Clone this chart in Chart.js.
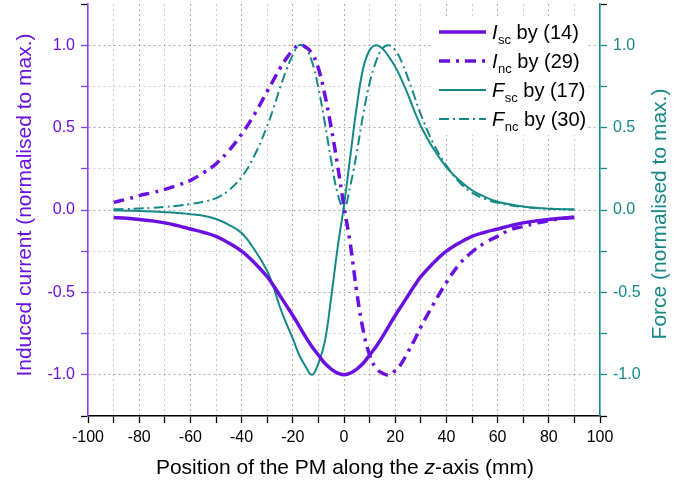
<!DOCTYPE html>
<html>
<head>
<meta charset="utf-8">
<script src="https://cdn.jsdelivr.net/npm/chart.js@4.4.1/dist/chart.umd.min.js"></script>
<style>
    html, body { margin: 0; padding: 0; background: #fff; }
    #wrap { width: 683px; height: 486px; position: relative; }
</style>
</head>
<body>
<div id="wrap"><canvas id="chart"></canvas></div>
<script>
// Position of the PM (mm)
const zPos = [-90, -85, -80, -75, -70, -65, -60, -55, -50, -45, -40, -35, -30, -27.5, -25, -22.5, -20, -17.5, -15, -12.5,
    -10, -7.5, -5, -2.5, 0, 2.5, 5, 7.5, 10, 12.5, 15, 17.5, 20, 22.5, 25, 27.5, 30, 35, 40, 45,
    50, 55, 60, 65, 70, 75, 80, 85, 90];

// Induced current, normalised
const iSc = [-0.045, -0.05, -0.058, -0.066, -0.078, -0.095, -0.115, -0.135, -0.16, -0.2, -0.25, -0.32, -0.405, -0.46, -0.52, -0.58, -0.64, -0.705, -0.77, -0.83,
    -0.88, -0.93, -0.965, -0.99, -1.0, -0.99, -0.965, -0.93, -0.88, -0.83, -0.77, -0.705, -0.64, -0.58, -0.52, -0.46, -0.405, -0.32, -0.25, -0.2,
    -0.16, -0.135, -0.115, -0.095, -0.078, -0.066, -0.058, -0.05, -0.045];
const iNc = [0.046, 0.065, 0.087, 0.105, 0.125, 0.15, 0.18, 0.225, 0.28, 0.36, 0.46, 0.58, 0.72, 0.79, 0.86, 0.92, 0.97, 1.0, 0.99, 0.95,
    0.86, 0.7, 0.5, 0.27, 0.02, -0.21, -0.5, -0.73, -0.88, -0.96, -0.99, -1.0, -0.975, -0.93, -0.86, -0.79, -0.71, -0.57, -0.44, -0.33,
    -0.255, -0.2, -0.16, -0.12, -0.1, -0.08, -0.065, -0.052, -0.042];

// Force, normalised
const fSc = [-0.003, -0.004, -0.006, -0.009, -0.013, -0.018, -0.025, -0.035, -0.055, -0.09, -0.14, -0.24, -0.37, -0.47, -0.59, -0.69, -0.78, -0.88, -0.95, -1.0,
    -0.93, -0.8, -0.53, -0.23, 0.03, 0.33, 0.63, 0.86, 0.97, 1.0, 0.98, 0.93, 0.87, 0.79, 0.7, 0.6, 0.51, 0.37, 0.26, 0.18,
    0.12, 0.08, 0.05, 0.034, 0.021, 0.013, 0.008, 0.005, 0.003];
const fNc = [0.004, 0.006, 0.009, 0.013, 0.019, 0.026, 0.036, 0.05, 0.072, 0.12, 0.2, 0.33, 0.51, 0.62, 0.74, 0.85, 0.94, 1.0, 0.98, 0.9,
    0.74, 0.53, 0.3, 0.1, 0.01, 0.15, 0.35, 0.58, 0.77, 0.9, 0.98, 1.0, 0.97, 0.9, 0.8, 0.69, 0.58, 0.4, 0.27, 0.17,
    0.105, 0.068, 0.044, 0.029, 0.019, 0.012, 0.008, 0.005, 0.003];

const legendItems = [
    { sym: 'I', sub: 'sc', rest: ' by (14)' },
    { sym: 'I', sub: 'nc', rest: ' by (29)' },
    { sym: 'F', sub: 'sc', rest: ' by (17)' },
    { sym: 'F', sub: 'nc', rest: ' by (30)' }
];

const PURPLE = '#6a10e0';
const PURPLE_AXIS = '#8444ee';
const TEAL = '#168888';
const FONT = '"Liberation Sans", Arial, sans-serif';

const DASH_I = [11, 6, 3, 6];
const DASH_F = [10, 4, 2, 4];

function pts(values) {
    return zPos.map((z, i) => ({ x: z, y: values[i] }));
}

function isMult(v, step) {
    return Math.abs(v / step - Math.round(v / step)) < 1e-6;
}

// kill the auto label overflow padding so the plot box lands where the reference has it
function noPad(s) {
    s.paddingTop = 0;
    s.paddingBottom = 0;
    s.paddingLeft = 0;
    s.paddingRight = 0;
}

const styles = [
    { color: PURPLE, width: 3.5, dash: [] },
    { color: PURPLE, width: 3.5, dash: DASH_I },
    { color: TEAL, width: 2, dash: [] },
    { color: TEAL, width: 2, dash: DASH_F }
];

// legend + axis titles (need italics and subscripts)
const decorPlugin = {
    id: 'decor',
    afterDatasetsDraw(chart) {
        const ctx = chart.ctx;
        ctx.save();
        ctx.fillStyle = '#fff';
        ctx.fillRect(432, 17, 156, 118);

        const rows = [32, 61, 90, 119];
        legendItems.forEach((item, i) => {
            const y = rows[i];
            const st = styles[i];
            ctx.strokeStyle = st.color;
            ctx.lineWidth = st.width;
            ctx.setLineDash(st.dash);
            ctx.beginPath();
            ctx.moveTo(439, y);
            ctx.lineTo(486, y);
            ctx.stroke();
            ctx.setLineDash([]);

            ctx.fillStyle = '#000';
            ctx.textBaseline = 'alphabetic';
            ctx.textAlign = 'left';
            let x = 492;
            ctx.font = 'italic 20px ' + FONT;
            ctx.fillText(item.sym, x, y + 7);
            x += ctx.measureText(item.sym).width + 0.5;
            ctx.font = '13px ' + FONT;
            ctx.fillText(item.sub, x, y + 12);
            x += ctx.measureText(item.sub).width;
            ctx.font = '20px ' + FONT;
            ctx.fillText(item.rest, x, y + 7);
        });
        ctx.restore();
    },
    afterDraw(chart) {
        const ctx = chart.ctx;
        ctx.save();
        ctx.font = '21px ' + FONT;
        ctx.textAlign = 'center';
        ctx.textBaseline = 'middle';

        ctx.save();
        ctx.translate(25, 205);
        ctx.rotate(-Math.PI / 2);
        ctx.fillStyle = PURPLE;
        ctx.fillText('Induced current (normalised to max.)', 0, 0);
        ctx.restore();

        ctx.save();
        ctx.translate(660, 214);
        ctx.rotate(-Math.PI / 2);
        ctx.fillStyle = TEAL;
        ctx.fillText('Force (normalised to max.)', 0, 0);
        ctx.restore();

        // x title with italic z
        const p1 = 'Position of the PM along the ';
        const p2 = 'z';
        const p3 = '-axis (mm)';
        ctx.textAlign = 'left';
        ctx.fillStyle = '#000';
        ctx.font = '21px ' + FONT;
        const w1 = ctx.measureText(p1).width;
        const w3 = ctx.measureText(p3).width;
        ctx.font = 'italic 21px ' + FONT;
        const w2 = ctx.measureText(p2).width;
        let x = 345 - (w1 + w2 + w3) / 2;
        const y = 468;
        ctx.font = '21px ' + FONT;
        ctx.fillText(p1, x, y);
        x += w1;
        ctx.font = 'italic 21px ' + FONT;
        ctx.fillText(p2, x, y);
        x += w2;
        ctx.font = '21px ' + FONT;
        ctx.fillText(p3, x, y);
        ctx.restore();
    }
};

function gridColor(ctx, major, lo, hi) {
    const v = ctx.tick ? ctx.tick.value : 0;
    if (v <= lo + 1e-6 || v >= hi - 1e-6) return 'rgba(0,0,0,0)';
    return isMult(v, major) ? 'rgba(0,0,0,0.32)' : 'rgba(0,0,0,0.2)';
}

const ctx = document.getElementById('chart').getContext('2d');

new Chart(ctx, {
    type: 'line',
    data: {
        datasets: [
            { label: 'Isc by (14)', data: pts(iSc), yAxisID: 'y' },
            { label: 'Inc by (29)', data: pts(iNc), yAxisID: 'y' },
            { label: 'Fsc by (17)', data: pts(fSc), yAxisID: 'y2' },
            { label: 'Fnc by (30)', data: pts(fNc), yAxisID: 'y2' }
        ].map((d, i) => ({
            ...d,
            borderColor: styles[i].color,
            borderWidth: styles[i].width,
            borderDash: styles[i].dash,
            pointRadius: 0,
            fill: false,
            tension: 0.4
        }))
    },
    options: {
        responsive: true,
        maintainAspectRatio: false,
        animation: false,
        layout: { autoPadding: false, padding: { top: 4, left: 0, right: 0, bottom: 0 } },
        plugins: {
            legend: { display: false },
            tooltip: { enabled: false }
        },
        scales: {
            x: {
                type: 'linear',
                min: -100,
                max: 100,
                afterFit: (s) => { s.height = 70; noPad(s); },
                ticks: {
                    stepSize: 10,
                    autoSkip: false,
                    maxRotation: 0,
                    padding: 5,
                    color: '#000',
                    font: { size: 16, family: FONT },
                    callback: (v) => (isMult(v, 20) ? v : '')
                },
                grid: {
                    color: (c) => gridColor(c, 20, -100, 100),
                    lineWidth: 1,
                    tickColor: '#000',
                    tickLength: 7,
                    tickWidth: 1.3
                },
                border: { color: '#000', width: 1.6, dash: [2, 3] }
            },
            y: {
                position: 'left',
                min: -1.25,
                max: 1.25,
                afterFit: (s) => { s.width = 88; noPad(s); },
                ticks: {
                    stepSize: 0.25,
                    padding: 6,
                    color: PURPLE,
                    font: { size: 16, family: FONT },
                    callback: (v) => (isMult(v, 0.5) && Math.abs(v) <= 1 ? v.toFixed(1) : '')
                },
                grid: {
                    color: (c) => gridColor(c, 0.5, -1.25, 1.25),
                    lineWidth: 1,
                    tickColor: (c) => (c.tick && Math.abs(c.tick.value) > 1.2 ? '#000' : PURPLE_AXIS),
                    tickLength: 7,
                    tickWidth: 1.3
                },
                border: { color: PURPLE_AXIS, width: 1.6, dash: [2, 3] }
            },
            y2: {
                position: 'right',
                min: -1.25,
                max: 1.25,
                afterFit: (s) => { s.width = 83; noPad(s); },
                ticks: {
                    stepSize: 0.25,
                    padding: 6,
                    color: TEAL,
                    font: { size: 16, family: FONT },
                    callback: (v) => (isMult(v, 0.5) && Math.abs(v) <= 1 ? v.toFixed(1) : '')
                },
                grid: {
                    drawOnChartArea: false,
                    tickColor: (c) => (c.tick && Math.abs(c.tick.value) > 1.2 ? '#000' : TEAL),
                    tickLength: 7,
                    tickWidth: 1.3
                },
                border: { color: TEAL, width: 1.6 }
            }
        }
    },
    plugins: [decorPlugin]
});
</script>
</body>
</html>
